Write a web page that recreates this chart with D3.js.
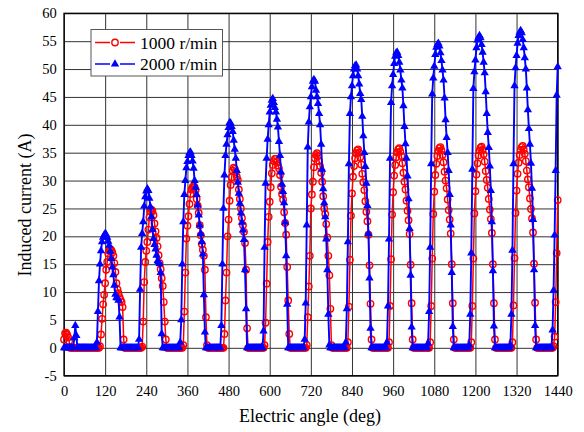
<!DOCTYPE html>
<html>
<head>
<meta charset="utf-8">
<style>
  body { margin: 0; background: #fff; }
  text { font-family: "Liberation Serif", "Times New Roman", serif; fill: #000; }
</style>
<title>Induced current</title>
</head>
<body>
<div id="chart"></div>
<script src="https://cdnjs.cloudflare.com/ajax/libs/d3/7.8.5/d3.min.js"></script>
<script>
var width = 584, height = 432;
var plot = {left: 64, right: 557.7, top: 13.3, bottom: 375.7};

// samples every 3 deg; each row starts at the angle in rowStart
var ANGLE_STEP = 3;
var rowStart = [0, 90, 210, 330, 450, 570, 690, 810, 930, 1050, 1170, 1290, 1410];

var current1000 = [
  [1.5,2.6,2.7,2.4,1.9,1.2,0,0,0,0, 0,0,0,0,0,0,0,0,0,0, 0,0,0,0,0,0,0,0,0,0],
  [0,0,0,0,0,0.3,2.4,5.2,7.8,9.5, 11.6,14.0,15.4,16.9,17.5,17.7,17.5,17.1,16.5,15.2, 13.6,11.6,10.5,9.8,9.1,8.6,8.2,7.3,1.5,0, 0,0,0,0,0,0,0,0,0,0],
  [0,0,0,0,0,0,0.2,4.7,11.8,15.4, 17.4,19.0,21.2,23.4,24.5,24.8,24.5,23.8,22.3,20.9, 19.7,18.2,16.6,15.2,14.1,12.5,11.1,8.2,4.7,1.5, 0,0,0,0,0,0,0,0,0,0],
  [0,0,0,0,0,0,0.5,6.5,13.5,19.6, 21.9,23.6,25.8,27.6,28.4,28.8,29.0,28.8,28.3,26.7, 25.5,24.2,22.0,20.2,18.6,17.6,16.5,14.0,5.5,0.5, 0,0,0,0,0,0,0,0,0,0],
  [0,0,0,0,0,0,2.5,8.5,13.5,20.0, 23.0,26.4,29.2,30.6,31.8,32.3,32.1,31.5,30.7,30.1, 28.4,26.7,25.0,23.3,22.0,20.8,18.8,14.0,3.5,0, 0,0,0,0,0,0,0,0,0,0],
  [0,0,0,0,0,0.5,4.5,11.5,19.0,23.5, 26.2,28.8,31.3,32.8,33.5,33.9,33.9,33.4,32.7,32.2, 31.0,28.9,27.6,26.6,24.3,22.4,20.3,14.5,8.5,2.5, 0,0,0,0,0,0,0,0,0,0],
  [0,0,0,0,0,0,0.5,5.5,11.0,16.5, 25.0,27.5,29.8,32.4,34.0,34.6,34.9,34.4,33.5,32.6, 31.4,29.8,27.2,25.0,24.0,22.2,19.8,16.5,13.0,7.0, 0.5,0,0,0,0,0,0,0,0,0],
  [0,0,0,0,0,0,1.0,7.4,15.8,23.7, 27.7,30.7,32.6,34.0,34.9,35.4,35.6,35.0,34.2,32.9, 31.2,29.7,28.3,26.3,24.4,22.7,20.3,14.8,7.9,1.5, 0,0,0,0,0,0,0,0,0,0],
  [0,0,0,0,0,0,1.0,7.5,15.9,23.9, 27.9,30.9,32.8,34.2,35.1,35.6,35.8,35.2,34.4,33.1, 31.4,29.8,28.4,26.4,24.6,22.9,20.4,14.9,8.0,1.5, 0,0,0,0,0,0,0,0,0,0],
  [0,0,0,0,0,0,1.0,7.5,16.0,24.0, 28.0,31.0,33.0,34.4,35.3,35.8,36.0,35.4,34.6,33.3, 31.6,30.0,28.6,26.6,24.7,23.0,20.5,15.0,8.0,1.5, 0,0,0,0,0,0,0,0,0,0],
  [0,0,0,0,0,0,1.0,7.5,16.0,24.1, 28.1,31.1,33.1,34.5,35.4,35.9,36.1,35.5,34.7,33.4, 31.7,30.1,28.7,26.7,24.8,23.1,20.6,15.0,8.0,1.5, 0,0,0,0,0,0,0,0,0,0],
  [0,0,0,0,0,0,1.0,7.6,16.1,24.2, 28.2,31.2,33.2,34.6,35.5,36.0,36.2,35.6,34.8,33.5, 31.8,30.2,28.8,26.8,24.9,23.2,20.7,15.1,8.1,1.5, 0,0,0,0,0,0,0,0,0,0],
  [0,0,0,0,0,0,0.3,2.0,8.2,17.0,26.5]
];

var current2000 = [
  [0,0,0,0,0,0,0,0,0,0, 1.8,4.0,2.2,0,0,0,0,0,0,0, 0,0,0,0,0,0,0,0,0,0],
  [0,0,1.0,6.5,12.0,15.0,17.4,19.0,19.8,20.2, 20.5,20.3,19.8,19.1,18.4,17.3,16.0,14.5,13.1,11.2, 9.6,9.0,8.9,8.5,5.5,0,0,0,0,0, 0,0,0,0,0,0,0,0,0,0],
  [0,0,0,1.5,10.5,18.0,20.5,22.6,25.4,27.1, 28.1,28.5,28.2,26.8,25.3,23.5,21.2,19.6,18.5,17.7, 16.6,15.6,15.4,15.1,13.5,2.5,0,0,0,0, 0,0,0,0,0,0,0,0,0,0],
  [0,0,0,1.0,5.0,15.0,22.6,27.5,30.0,32.3, 33.4,34.5,35.0,35.1,34.5,33.5,32.2,30.0,28.8,27.5, 25.6,23.8,22.0,20.5,19.0,16.8,9.5,2.8,0,0, 0,0,0,0,0,0,0,0,0,0],
  [0,0,0,4.0,15.0,25.0,31.0,34.5,36.5,38.2, 39.5,40.4,40.3,39.7,38.8,37.2,35.6,34.0,31.8,29.7, 27.7,25.9,24.2,22.5,21.1,19.4,14.0,7.0,0,0, 0,0,0,0,0,0,0,0,0,0],
  [0,0,0,0,3.0,18.0,29.5,34.0,37.4,40.0, 42.3,43.5,44.4,44.7,44.0,43.1,42.3,41.0,39.6,37.0, 34.5,31.5,29.3,28.0,26.0,22.5,16.5,7.8,0,0, 0,0,0,0,0,0,0,0,0,0],
  [0,0,0,0,1.5,8.0,22.0,36.0,40.5,43.2, 45.0,46.8,47.8,48.1,47.8,46.2,45.0,43.8,42.0,40.0, 36.5,32.0,28.5,26.0,23.5,19.5,14.0,6.0,0.5,0, 0,0,0,0,0,0,0,0,0,0],
  [0,0,0,0,1.0,7.0,19.0,33.0,42.0,45.0, 47.0,48.8,50.0,50.6,50.7,50.0,48.8,47.3,45.6,44.5, 41.5,38.0,35.0,32.5,29.5,25.5,20.5,12.5,3.5,0, 0,0,0,0,0,0,0,0,0,0],
  [0,0,0,0,1.0,7.5,19.5,34.0,44.0,47.0, 49.0,51.0,52.3,52.9,53.0,52.4,51.2,49.8,48.0,46.6, 43.4,39.7,36.6,34.0,30.8,26.7,21.4,13.0,3.7,0, 0,0,0,0,0,0,0,0,0,0],
  [0,0,0,0,0.8,6.5,18.0,33.0,45.5,48.4, 50.5,52.6,53.9,54.4,54.6,54.1,52.9,51.5,49.8,48.0, 44.8,40.9,37.7,35.0,31.8,27.5,22.0,13.5,3.8,0, 0,0,0,0,0,0,0,0,0,0],
  [0,0,0,0,0.5,6.0,17.0,32.0,46.5,49.5, 51.6,53.8,55.2,55.7,56.0,55.6,54.4,53.0,51.2,49.3, 45.9,42.0,38.6,35.9,32.6,28.2,22.6,13.8,3.9,0, 0,0,0,0,0,0,0,0,0,0],
  [0,0,0,0,0.5,6.0,17.5,33.0,47.0,50.2, 52.4,54.6,56.0,56.6,56.9,56.5,55.3,53.8,52.0,50.0, 46.6,42.7,39.3,36.5,33.1,28.6,23.0,14.0,4.0,0, 0,0,0,0,0,0,0,0,0,0],
  [0,0,0,0,0,3.2,10.3,20.2,31.8,45.3,50.4]
];

var xTicks = [0, 120, 240, 360, 480, 600, 720, 840, 960, 1080, 1200, 1320, 1440];
var yTicks = [-5, 0, 5, 10, 15, 20, 25, 30, 35, 40, 45, 50, 55, 60];
var seriesNames = ["1000 r/min", "2000 r/min"];
var seriesColors = ["#ff0000", "#0000ff"];

function toPoints(rows) {
  var pts = [];
  rows.forEach(function(row, r) {
    row.forEach(function(v, i) { pts.push([rowStart[r] + i * ANGLE_STEP, v]); });
  });
  return pts;
}

var svg = d3.select("#chart").append("svg")
  .attr("width", width).attr("height", height);

var x = d3.scaleLinear().domain([0, 1440]).range([plot.left, plot.right]);
var y = d3.scaleLinear().domain([-5, 60]).range([plot.bottom, plot.top]);

// grid
svg.append("g")
  .attr("transform", "translate(0," + plot.bottom + ")")
  .call(d3.axisBottom(x).tickValues(xTicks).tickSize(-(plot.bottom - plot.top)).tickFormat(""))
  .call(function(g) { g.select(".domain").remove(); g.selectAll("line").attr("stroke", "#333"); });
svg.append("g")
  .attr("transform", "translate(" + plot.left + ",0)")
  .call(d3.axisLeft(y).tickValues(yTicks).tickSize(-(plot.right - plot.left)).tickFormat(""))
  .call(function(g) { g.select(".domain").remove(); g.selectAll("line").attr("stroke", "#333"); });

// tick labels
svg.append("g")
  .attr("transform", "translate(0," + plot.bottom + ")")
  .call(d3.axisBottom(x).tickValues(xTicks).tickSize(0).tickPadding(10.5).tickFormat(d3.format("d")))
  .call(function(g) { g.select(".domain").remove(); })
  .selectAll("text").style("font-size", "14.5px").style("font-family", "Liberation Serif");
svg.append("g")
  .attr("transform", "translate(" + plot.left + ",0)")
  .call(d3.axisLeft(y).tickValues(yTicks).tickSize(0).tickPadding(7.3).tickFormat(function(d) { return d < 0 ? "-" + Math.abs(d) : d; }))
  .call(function(g) { g.select(".domain").remove(); })
  .selectAll("text").style("font-size", "14.5px").style("font-family", "Liberation Serif");

// frame
svg.append("rect")
  .attr("x", plot.left).attr("y", plot.top)
  .attr("width", plot.right - plot.left).attr("height", plot.bottom - plot.top)
  .attr("fill", "none").attr("stroke", "#000").attr("stroke-width", 1.3);

var line = d3.line().x(function(d) { return x(d[0]); }).y(function(d) { return y(d[1]); });
var tri = d3.symbol().type(d3.symbolTriangle).size(30);

// 1000 r/min : red, open circles
var red = toPoints(current1000);
svg.append("path").datum(red)
  .attr("d", line).attr("fill", "none")
  .attr("stroke", seriesColors[0]).attr("stroke-width", 1.5);
svg.append("g").selectAll("circle").data(red).enter().append("circle")
  .attr("cx", function(d) { return x(d[0]); })
  .attr("cy", function(d) { return y(d[1]); })
  .attr("r", 3.2)
  .attr("fill", "none").attr("stroke", seriesColors[0]).attr("stroke-width", 1.4);

// 2000 r/min : blue, filled triangles
var blue = toPoints(current2000);
svg.append("path").datum(blue)
  .attr("d", line).attr("fill", "none")
  .attr("stroke", seriesColors[1]).attr("stroke-width", 1.9);
svg.append("g").selectAll("path").data(blue).enter().append("path")
  .attr("d", tri)
  .attr("transform", function(d) { return "translate(" + x(d[0]) + "," + y(d[1]) + ")"; })
  .attr("fill", seriesColors[1]);

// legend
var lg = svg.append("g");
lg.append("rect").attr("x", 91).attr("y", 29.5).attr("width", 131.5).attr("height", 46.5)
  .attr("fill", "#fff").attr("stroke", "#555").attr("stroke-width", 1);
[42.5, 64].forEach(function(ly, k) {
  lg.append("line").attr("x1", 95).attr("x2", 110).attr("y1", ly).attr("y2", ly)
    .attr("stroke", seriesColors[k]).attr("stroke-width", 1.5);
  lg.append("line").attr("x1", 120).attr("x2", 135).attr("y1", ly).attr("y2", ly)
    .attr("stroke", seriesColors[k]).attr("stroke-width", 1.5);
  if (k === 0) {
    lg.append("circle").attr("cx", 115).attr("cy", ly).attr("r", 3.2)
      .attr("fill", "none").attr("stroke", seriesColors[k]).attr("stroke-width", 1.4);
  } else {
    lg.append("path").attr("d", tri).attr("transform", "translate(115," + ly + ")")
      .attr("fill", seriesColors[k]);
  }
  lg.append("text").attr("x", 140).attr("y", ly + 6)
    .style("font-size", "17.5px").text(seriesNames[k]);
});

// axis titles
svg.append("text")
  .attr("x", 310).attr("y", 422)
  .attr("text-anchor", "middle")
  .style("font-size", "18px")
  .text("Electric angle (deg)");
svg.append("text")
  .attr("transform", "translate(31,205) rotate(-90)")
  .attr("text-anchor", "middle")
  .style("font-size", "18px")
  .text("Induced current (A)");
</script>
</body>
</html>
